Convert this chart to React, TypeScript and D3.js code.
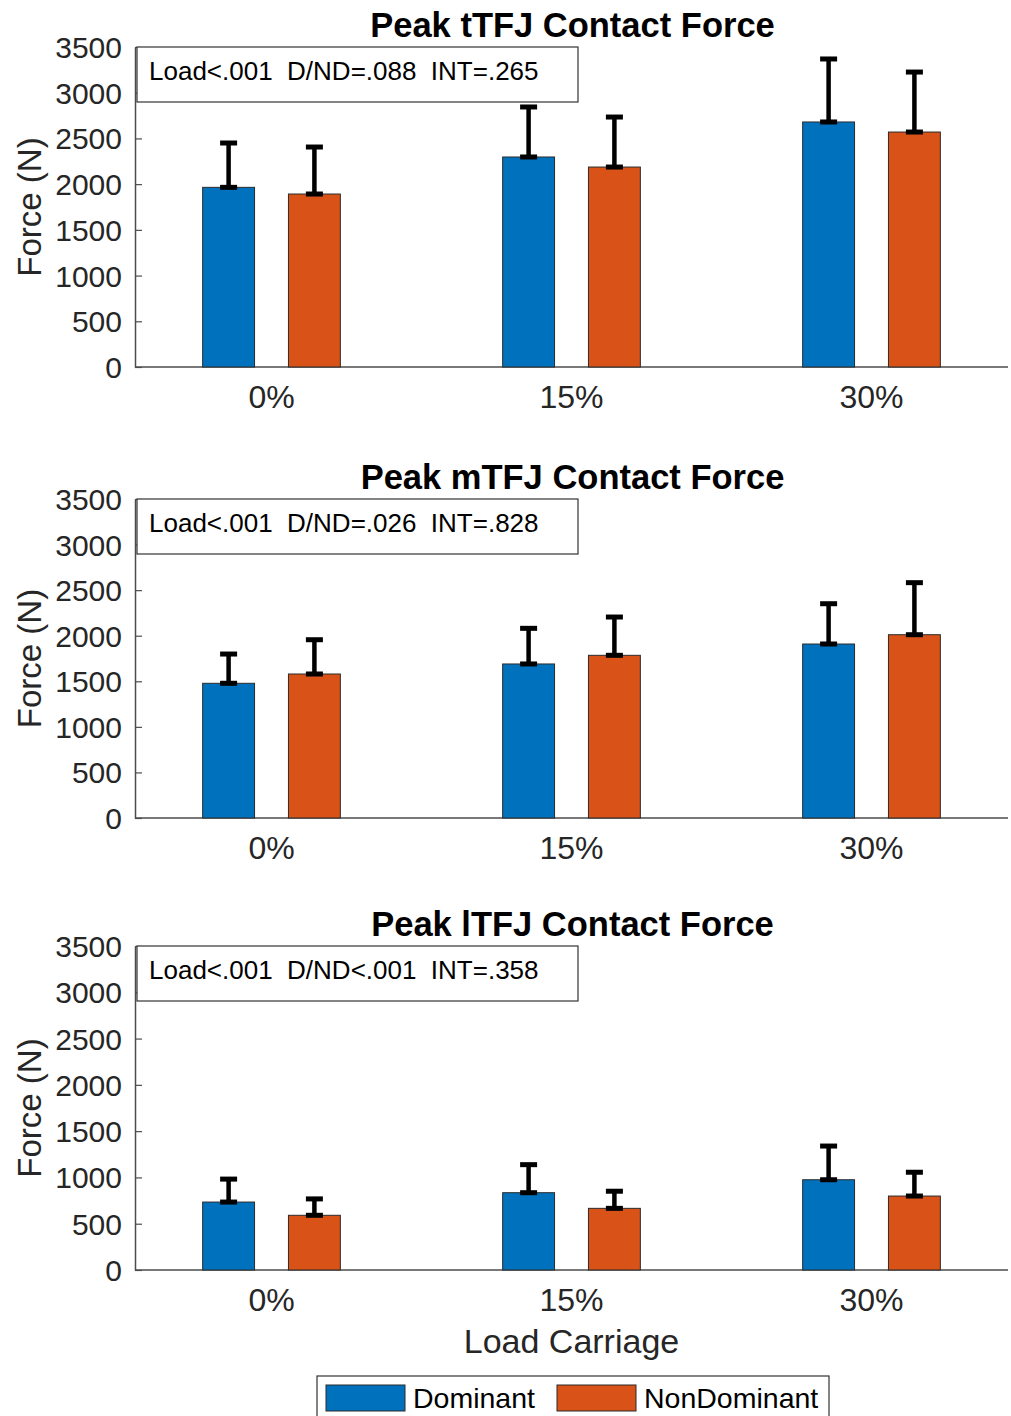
import { useEffect, useRef } from 'react';
import * as d3 from 'd3';

const categories = ['0%', '15%', '30%'];
const seriesNames = ['Dominant', 'NonDominant'];
const yTicks = [0, 500, 1000, 1500, 2000, 2500, 3000, 3500];

const titles = ['Peak tTFJ Contact Force', 'Peak mTFJ Contact Force', 'Peak lTFJ Contact Force'];
const statLabels = [
  'Load<.001  D/ND=.088  INT=.265',
  'Load<.001  D/ND=.026  INT=.828',
  'Load<.001  D/ND<.001  INT=.358',
];

// means and SD (N)
const ttfjDom = [1965, 2297, 2680];
const ttfjDomSd = [485, 547, 689];
const ttfjNon = [1892, 2187, 2570];
const ttfjNonSd = [514, 547, 656];

const mtfjDom = [1478, 1690, 1909];
const mtfjDomSd = [321, 391, 442];
const mtfjNon = [1580, 1785, 2011];
const mtfjNonSd = [376, 420, 571];

const ltfjDom = [734, 835, 975];
const ltfjDomSd = [248, 303, 364];
const ltfjNon = [591, 666, 799];
const ltfjNonSd = [177, 185, 257];

const panelData = [
  { dom: ttfjDom, domSd: ttfjDomSd, non: ttfjNon, nonSd: ttfjNonSd },
  { dom: mtfjDom, domSd: mtfjDomSd, non: mtfjNon, nonSd: mtfjNonSd },
  { dom: ltfjDom, domSd: ltfjDomSd, non: ltfjNon, nonSd: ltfjNonSd },
];

const colors = ['#0072BD', '#D95319'];
const FONT = '"Liberation Sans", Arial, Helvetica, sans-serif';
const TEXT = '#262626';

export default function App() {
  const svgRef = useRef<SVGSVGElement>(null);

  useEffect(() => {
    const svg = d3.select(svgRef.current);
    svg.selectAll('*').remove();

    const W = 1011;
    const H = 1416;
    svg.attr('width', W).attr('height', H).attr('font-family', FONT);

    const left = 135;
    const right = 1008;
    const panels = [
      { top: 47, bottom: 367 },
      { top: 499, bottom: 818 },
      { top: 946, bottom: 1270 },
    ];

    const x = d3.scalePoint<string>().domain(categories).range([left, right]).padding(0.455);
    const step = x.step();
    const offset = 0.143 * step;
    const barW = 0.173 * step;
    const capW = 17;

    panels.forEach((p, pi) => {
      const d = panelData[pi];
      const y = d3.scaleLinear().domain([0, 3500]).range([p.bottom, p.top]);
      const g = svg.append('g');

      // title
      g.append('text')
        .attr('x', (left + right) / 2 + 1)
        .attr('y', p.top - 10)
        .attr('text-anchor', 'middle')
        .attr('font-size', 34.5)
        .attr('font-weight', 'bold')
        .attr('fill', '#000')
        .text(titles[pi]);

      // y axis
      const yAxis = g.append('g')
        .attr('transform', `translate(${left},0)`)
        .call(d3.axisLeft(y).tickValues(yTicks).tickFormat(d3.format('d')).tickSize(-7).tickPadding(13).tickSizeOuter(0));
      yAxis.select('.domain').attr('stroke', '#4d4d4d').attr('stroke-width', 1.5);
      yAxis.selectAll('.tick line').attr('stroke', '#4d4d4d').attr('stroke-width', 1.2);
      yAxis.selectAll('.tick text')
        .attr('font-size', 30)
        .attr('font-family', FONT)
        .attr('fill', TEXT)
        .attr('dy', '0.35em');

      // x axis line
      g.append('line')
        .attr('x1', left).attr('x2', right)
        .attr('y1', p.bottom).attr('y2', p.bottom)
        .attr('stroke', '#4d4d4d').attr('stroke-width', 1.5);

      // x tick labels
      categories.forEach(c => {
        g.append('text')
          .attr('x', x(c)!)
          .attr('y', p.bottom + 41)
          .attr('text-anchor', 'middle')
          .attr('font-size', 32)
          .attr('fill', TEXT)
          .text(c);
      });

      // y label
      g.append('text')
        .attr('transform', `translate(41,${(p.top + p.bottom) / 2}) rotate(-90)`)
        .attr('text-anchor', 'middle')
        .attr('font-size', 33)
        .attr('fill', TEXT)
        .text('Force (N)');

      // bars
      const series = [
        { vals: d.dom, sd: d.domSd, dx: -offset, color: colors[0] },
        { vals: d.non, sd: d.nonSd, dx: offset, color: colors[1] },
      ];
      series.forEach(s => {
        categories.forEach((c, i) => {
          const cx = x(c)! + s.dx;
          g.append('rect')
            .attr('x', cx - barW / 2)
            .attr('y', y(s.vals[i]))
            .attr('width', barW)
            .attr('height', y(0) - y(s.vals[i]))
            .attr('fill', s.color)
            .attr('stroke', '#2b2b2b')
            .attr('stroke-width', 1);
        });
      });

      // error bars (upper only)
      series.forEach(s => {
        categories.forEach((c, i) => {
          const cx = x(c)! + s.dx;
          const y0 = y(s.vals[i]);
          const y1 = y(s.vals[i] + s.sd[i]);
          g.append('line')
            .attr('x1', cx).attr('x2', cx).attr('y1', y0).attr('y2', y1)
            .attr('stroke', '#000').attr('stroke-width', 4.5);
          [y0, y1].forEach(yy => {
            g.append('line')
              .attr('x1', cx - capW / 2).attr('x2', cx + capW / 2)
              .attr('y1', yy).attr('y2', yy)
              .attr('stroke', '#000').attr('stroke-width', 5);
          });
        });
      });

      // stats box
      g.append('rect')
        .attr('x', left + 2)
        .attr('y', p.top)
        .attr('width', 441)
        .attr('height', 55)
        .attr('fill', '#fff')
        .attr('stroke', '#333')
        .attr('stroke-width', 1.2);
      g.append('text')
        .attr('x', left + 14)
        .attr('y', p.top + 33)
        .attr('font-size', 26)
        .attr('fill', '#000')
        .attr('xml:space', 'preserve')
        .style('white-space', 'pre')
        .text(statLabels[pi]);
    });

    // x axis title
    svg.append('text')
      .attr('x', (left + right) / 2)
      .attr('y', 1353)
      .attr('text-anchor', 'middle')
      .attr('font-size', 34)
      .attr('fill', TEXT)
      .text('Load Carriage');

    // legend
    const lg = svg.append('g');
    lg.append('rect')
      .attr('x', 317).attr('y', 1376)
      .attr('width', 512).attr('height', 48)
      .attr('fill', '#fff')
      .attr('stroke', '#333').attr('stroke-width', 1.2);
    const legendX = [326, 557];
    seriesNames.forEach((name, i) => {
      lg.append('rect')
        .attr('x', legendX[i]).attr('y', 1385)
        .attr('width', 79).attr('height', 26)
        .attr('fill', colors[i])
        .attr('stroke', '#2b2b2b').attr('stroke-width', 1);
      lg.append('text')
        .attr('x', legendX[i] + 87)
        .attr('y', 1408)
        .attr('font-size', 28.5)
        .attr('fill', '#000')
        .text(name);
    });
  }, []);

  return (
    <div style={{ position: 'absolute', left: 0, top: 0, background: '#fff' }}>
      <svg ref={svgRef} style={{ display: 'block' }}></svg>
    </div>
  );
}
